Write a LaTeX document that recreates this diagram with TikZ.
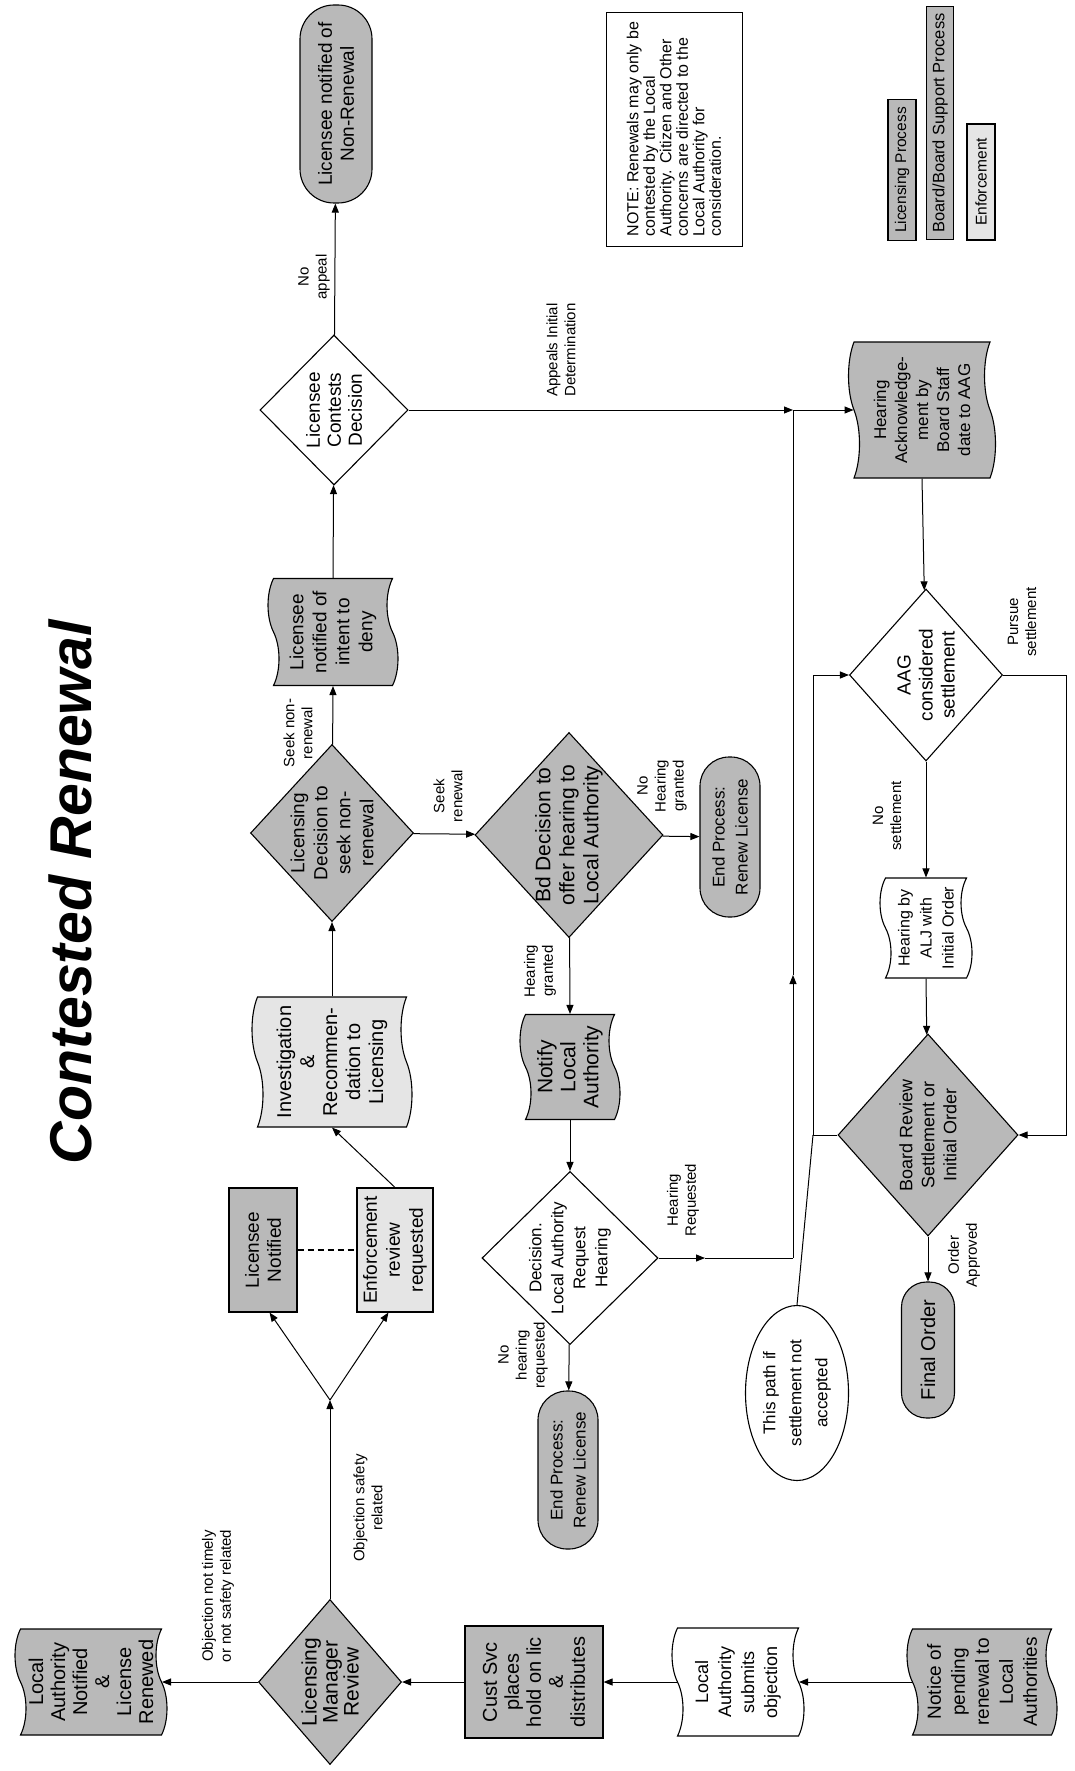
\documentclass[tikz,border=0pt]{standalone}
\usepackage{fontspec}
\setmainfont{Liberation Sans}
\usetikzlibrary{arrows.meta,shapes.geometric,shapes.symbols,shapes.misc}
\newcommand{\fsz}[2]{\fontsize{#1}{#2}\selectfont}
\begin{document}
\begin{tikzpicture}[x=1pt,y=-1pt,
  shp/.style={rotate=90, draw, line width=1.1pt, align=center},
  dk/.style={fill=gray!55},
  lt/.style={fill=gray!20},
  wt/.style={fill=white},
  wh/.style 2 args={minimum height=#1, minimum width=#2},
  dia/.style={shp, diamond, inner sep=-45pt},
  tp/.style={shp, tape, inner sep=1pt, tape bend height=11pt},
  term/.style={shp, rectangle, inner sep=1pt, rounded corners=#1},
  box/.style={shp, rectangle, inner sep=1pt},
  lbl/.style={rotate=90, align=center, inner sep=0pt, font=\fsz{15}{18}},
  ln/.style={line width=1pt},
  arr/.style={line width=1pt, -{Triangle[length=9pt,width=7pt]}}]
\fill[white] (0,0) rectangle (1074,1771);
\useasboundingbox (0,0) rectangle (1074,1771);

% title
\node[rotate=90, inner sep=0pt, font=\fsz{59}{60}\bfseries\itshape] (title) at (70,892) {Contested Renewal};

% bottom row
\node[tp,dk,wh={152}{106},font=\fsz{20}{22}] (lan) at (91,1682) {Local\\Authority\\Notified\\\&\\License\\Renewed};
\node[dia,dk,wh={143}{165},font=\fsz{21}{21}] (lmr) at (330,1682) {Licensing\\Manager\\Review};
\node[box,dk,wh={138}{112},font=\fsz{20}{22}] (cust) at (534,1682) {Cust Svc\\places\\hold on lic\\\&\\distributes};
\node[tp,wt,wh={132}{108},font=\fsz{18}{23}] (lasub) at (738,1682) {Local\\Authority\\submits\\objection};
\node[tp,dk,wh={150}{106},font=\fsz{19}{24}] (notice) at (982,1682) {Notice of\\pending\\renewal to\\Local\\Authorities};

% column B
\node[box,dk,wh={68}{124},font=\fsz{19}{22}] (lnot) at (263,1250) {Licensee\\Notified};
\node[box,lt,wh={76}{124},font=\fsz{19}{23}] (enf) at (395,1250) {Enforcement\\review\\requested};
\node[tp,lt,wh={160}{130},font=\fsz{20}{23}] (inv) at (332,1062) {Investigation\\\&\\Recommen-\\dation to\\Licensing};
\node[dia,dk,wh={163}{177},font=\fsz{19}{23}] (ld) at (332,833) {Licensing\\Decision to\\seek non-\\renewal};
\node[tp,dk,wh={130}{107},font=\fsz{19}{23}] (intent) at (333,632) {Licensee\\notified of\\intent to\\deny};
\node[dia,wt,wh={148}{150},font=\fsz{19}{21}] (contests) at (334,410) {Licensee\\Contests\\Decision};
\node[term=34,dk,wh={72}{198},font=\fsz{19}{22}] (nonren) at (336,104) {Licensee notified of\\Non-Renewal};

% column C
\node[dia,dk,wh={188}{205},font=\fsz{21}{24}] (bd) at (569,835) {Bd Decision to\\offer hearing to\\Local Authority};
\node[term=29,dk,wh={60}{160},font=\fsz{17}{23}] (ep2) at (730,837) {End Process:\\Renew License};
\node[tp,dk,wh={100}{105},font=\fsz{21}{23}] (notify) at (570,1067) {Notify\\Local\\Authority};
\node[dia,wt,wh={176}{173},font=\fsz{17}{22}] (dla) at (570,1258) {Decision.\\Local Authority\\Request\\Hearing};
\node[term=29,dk,wh={60}{158},font=\fsz{17}{23}] (ep1) at (568,1470) {End Process:\\Renew License};

% column D
\node[tp,dk,wh={147}{136},font=\fsz{17}{21}] (hack) at (922,410) {Hearing\\Acknowledge-\\ment by\\Board Staff\\date to AAG};
\node[dia,wt,wh={153}{172},font=\fsz{19}{22}] (aag) at (926,675) {AAG\\considered\\settlement};
\node[tp,wt,wh={92}{100},font=\fsz{16}{22}] (halj) at (926,928) {Hearing by\\ALJ with\\Initial Order};
\node[dia,dk,wh={180}{202},font=\fsz{18}{22}] (br) at (928,1135) {Board Review\\Settlement or\\Initial Order};
\node[term=25,dk,wh={53}{136},font=\fsz{20}{22}] (fo) at (928,1350) {Final Order};
\node[shp,ellipse,wt,inner sep=-8pt,wh={103}{175},font=\fsz{17}{26}] (ell) at (797,1393) {This path if\\settlement not\\accepted};

% note and legend
\node[box,wt,line width=0.9pt,wh={136}{234},font=\fsz{16}{16.5},align=left] (note) at (674,129) {NOTE: Renewals may only be\\contested by the Local\\Authority. Citizen and Other\\concerns are directed to the\\Local Authority for\\consideration.};
\node[box,dk,wh={28}{141},font=\fsz{15.5}{16}] (leglp) at (902,170) {Licensing Process};
\node[box,dk,wh={27}{233},font=\fsz{16.5}{17}] (legbb) at (940,123) {Board/Board Support Process};
\node[box,lt,wh={28}{116},font=\fsz{15.5}{16}] (legenf) at (981,182) {Enforcement};

% labels
\node[lbl] (l1) at (218,1596) {Objection not timely\\or not safety related};
\node[lbl] (l2) at (368,1508) {Objection safety\\related};
\node[lbl] (l3) at (298,733) {Seek non-\\renewal};
\node[lbl] (l4) at (314,277) {No\\appeal};
\node[lbl] (l5) at (448,796) {Seek\\renewal};
\node[lbl] (l6) at (662,786) {No\\Hearing\\granted};
\node[lbl] (l7) at (540,971) {Hearing\\granted};
\node[lbl] (l8) at (523,1355) {No\\hearing\\requested};
\node[lbl] (l9) at (683,1200) {Hearing\\Requested};
\node[lbl,align=left] (l10) at (561,350) {Appeals Initial\\Determination};
\node[lbl] (l11) at (1022,622) {Pursue\\settlement};
\node[lbl] (l12) at (887,816) {No\\settlement};
\node[lbl] (l13) at (964,1255) {Order\\Approved};

% coordinates
\coordinate (J) at (330,1400);
\coordinate (hr1) at (705,1258);
\coordinate (hr2) at (793,1258);
\coordinate (hr3) at (793,975);
\coordinate (vt) at (793,410);
\coordinate (pr) at (1066,900);
\coordinate (lpx) at (813,900);
\coordinate (lpc) at (813,1135);

% connectors bottom row
\draw[arr] (lmr) -- (lan.south);
\draw[arr] (cust) -- (lmr);
\draw[arr] (lasub.north) -- (cust);
\draw[arr] (notice.north) -- (lasub.south);

% column B
\draw[arr] (lmr) -- (J);
\draw[arr] (J) -- (lnot.186);
\draw[arr] (J) -- (enf.174);
\draw[ln,dashed,dash pattern=on 6pt off 4pt,line width=1.3pt] (lnot) -- (enf);
\draw[arr] (enf.east) -- (inv.west);
\draw[arr] (inv.east) -- (ld);
\draw[arr] (ld) -- (intent.west);
\draw[arr] (intent.east) -- (contests);
\draw[arr] (contests) -- (nonren);

% column C
\draw[arr] (ld) -- (bd);
\draw[arr] (bd) -- (ep2);
\draw[arr] (bd) -- (notify.east);
\draw[arr] (notify.west) -- (dla);
\draw[arr] (dla) -- (ep1);
\draw[arr] (dla.south) -- (hr1);
\draw[ln] (hr1) -- (hr2);
\draw[arr] (hr2) -- (hr3);
\draw[ln] (hr3) -- (vt);

% column D
\draw[arr] (contests) -- (vt);
\draw[arr] (vt) -- (hack.north);
\draw[arr] (hack.west) -- (aag);
\draw[arr] (aag) -- (halj.east);
\draw[arr] (halj.west) -- (br);
\draw[arr] (br) -- (fo);
\draw[arr] (aag.south) -| (pr) |- (br.south);
\draw[arr] (br.north) -| (lpx) |- (aag.north);
\draw[ln] (ell.east) -- (lpc);
\end{tikzpicture}
\end{document}
